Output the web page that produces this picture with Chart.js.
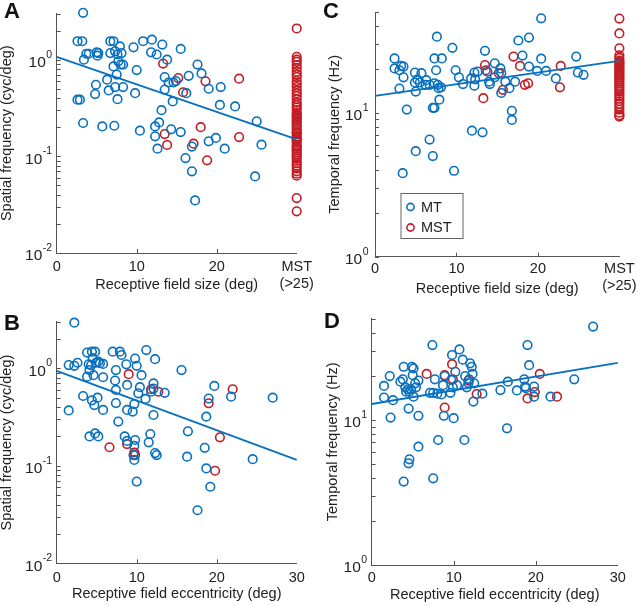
<!DOCTYPE html>
<html lang="en">
<head>
  <meta charset="UTF-8" />
  <title>MT / MST spatial and temporal frequency</title>
  <script src="https://cdn.jsdelivr.net/npm/chart.js"></script>
  <style>
    body { margin: 0; background: #fff; overflow: hidden; }
    #fig { position: relative; width: 640px; height: 606px; }
    #fig canvas { position: absolute; }
    .tag { position: absolute; font: bold 22px "Liberation Sans", Arial, sans-serif; line-height: 22px; color: #111; }
  </style>
</head>
<body>
  <div id="fig">
    <canvas id="chartA" width="320" height="303" style="left:0;top:0"></canvas>
    <canvas id="chartC" width="320" height="303" style="left:320px;top:0"></canvas>
    <canvas id="chartB" width="320" height="303" style="left:0;top:303px"></canvas>
    <canvas id="chartD" width="320" height="303" style="left:320px;top:303px"></canvas>
    <div class="tag" style="left:4px;top:0px">A</div>
    <div class="tag" style="left:323px;top:0px">C</div>
    <div class="tag" style="left:4px;top:312px">B</div>
    <div class="tag" style="left:324px;top:310px">D</div>
  </div>

  <script>
    // shared axis values
    const xTicks = [0, 10, 20, 30];
    const mstPos = 30;                 // where the MST group sits on the x axis
    const fitX = [0, 30];
    const sfTicks = [0.01, 0.02, 0.03, 0.04, 0.05, 0.06, 0.07, 0.08, 0.09,
                     0.1, 0.2, 0.3, 0.4, 0.5, 0.6, 0.7, 0.8, 0.9, 1, 2, 3];
    const sfDecades = [0.01, 0.1, 1];
    const sfExps = ['-2', '-1', '0'];
    const tfTicks = [1, 2, 3, 4, 5, 6, 7, 8, 9, 10, 20, 30, 40, 50];
    const tfDecades = [1, 10];
    const tfExps = ['0', '1'];

    // A: spatial frequency vs receptive field size
    const aMtX = [3.3,2.6,3.2,3.4,3.7,4.0,5.0,5.1,5.2,6.7,7.1,6.7,7.3,7.6,7.9,8.1,7.1,7.7,8.0,8.3,
                  6.3,7.5,7.3,8.3,4.9,4.8,6.5,7.6,2.6,2.9,3.3,5.7,7.2,9.6,10.8,11.9,11.8,12.5,13.2,13.8,
                  10.0,13.5,14.0,14.6,14.9,13.5,9.8,14.5,13.1,15.5,16.5,16.2,17.6,18.1,19.0,20.5,20.4,22.3,25.0,25.6,
                  24.8,12.8,12.3,12.3,12.6,14.3,10.4,15.5,16.1,16.9,16.9,17.3,19.0,19.9,21.0];
    const aMtY = [3.05,1.55,1.55,1.0,1.15,1.15,1.19,1.1,1.17,1.55,1.55,1.17,1.22,1.13,1.37,1.17,0.85,0.96,0.89,0.89,
                  0.62,0.70,0.52,0.52,0.55,0.44,0.48,0.39,0.385,0.385,0.221,0.204,0.207,1.34,1.55,1.61,1.19,1.13,1.43,1.0,
                  0.78,0.66,0.58,0.58,0.60,0.49,0.45,0.37,0.30,1.29,0.68,0.45,0.89,0.72,0.50,0.52,0.34,0.328,0.23,0.132,
                  0.062,0.224,0.204,0.161,0.12,0.19,0.184,0.178,0.096,0.07,0.126,0.035,0.143,0.155,0.12];
    const aMstX = [13.3,15.2,15.8,18.6,22.8,13.5,13.8,17.1,18.0,18.8,22.8];
    const aMstY = [0.91,0.645,0.46,0.596,0.635,0.17,0.131,0.135,0.2,0.091,0.158];
    const aColY = [2.1,1.07,1.0,0.95,0.88,0.82,0.75,0.7,0.66,0.6,0.56,0.52,0.48,0.45,0.42,0.39,0.36,0.34,0.32,0.3,
                   0.28,0.27,0.26,0.25,0.24,0.23,0.22,0.21,0.2,0.19,0.18,0.175,0.17,0.16,0.155,0.15,0.145,0.14,0.13,0.125,
                   0.12,0.115,0.11,0.105,0.1,0.095,0.09,0.085,0.08,0.075,0.07,0.066,0.063,0.037,0.027];
    const aFitY = [1.07, 0.15];

    // B: spatial frequency vs eccentricity
    const bMtX = [2.2,1.5,2.2,2.6,1.5,3.3,3.8,4.0,4.1,3.8,4.4,4.8,4.5,4.3,4.6,4.9,5.2,5.4,5.8,5.8,
                  4.4,4.7,5.1,5.8,4.1,4.8,5.2,7.0,7.3,7.4,7.4,7.4,7.7,7.9,8.1,8.7,8.8,8.8,9.5,9.7,
                  9.8,10.0,10.6,10.4,10.2,8.5,8.8,9.8,9.7,9.6,9.7,10.0,11.2,11.1,11.5,11.7,11.8,12.1,12.3,12.1,
                  12.3,12.5,12.1,13.5,15.6,16.4,16.3,18.5,18.7,18.7,19.0,19.2,19.7,17.6,21.8,24.5,27.0];
    const bMtY = [2.94,1.08,1.06,1.14,0.37,0.52,1.45,1.1,0.96,0.82,1.48,1.48,1.27,1.08,0.85,1.14,1.17,1.13,1.11,0.81,
                  0.47,0.42,0.5,0.374,0.2,0.215,0.2,1.48,0.75,0.96,0.6,0.44,0.284,1.48,1.37,1.1,0.675,0.374,0.36,0.43,
                  1.26,1.06,0.85,0.64,0.554,0.2,0.18,0.184,0.16,0.129,0.115,0.069,1.54,0.485,0.174,0.212,0.575,0.7,1.24,0.332,
                  0.135,0.129,0.62,0.56,0.96,0.226,0.124,0.153,0.319,0.094,0.49,0.061,0.66,0.035,0.512,0.117,0.5];
    const bMstX = [9.0,6.6,8.8,9.7,9.8,11.8,12.7,19.0,20.4,19.8,22.0];
    const bMstY = [0.87,0.155,0.167,0.137,0.129,0.61,0.575,0.438,0.196,0.089,0.61];
    const bFitY = [0.94, 0.115];

    // C: temporal frequency vs receptive field size
    const cMtX = [2.4,2.4,3.0,3.2,3.5,3.5,3.0,3.9,3.4,4.9,4.9,5.2,5.7,5.0,5.5,6.3,6.2,6.7,7.3,7.3,
                  7.5,7.6,8.2,7.7,7.8,8.1,7.9,7.1,7.3,6.7,7.1,5.0,9.7,9.5,9.9,10.3,10.8,11.8,12.2,12.6,
                  12.3,12.2,11.9,13.2,13.5,13.8,14.0,14.1,14.7,14.7,15.4,15.5,15.5,16.0,16.5,17.2,16.8,16.8,17.6,18.1,
                  18.9,18.9,19.9,21.0,20.4,20.4,22.2,24.7,24.9,25.6];
    const cMtY = [23.8,20.3,19.7,21.1,20.9,17.6,14.7,10.5,3.8,19.0,16.2,17.0,18.8,14.0,16.2,16.8,15.6,15.6,16.0,23.8,
                  19.7,33.7,23.8,15.6,14.8,15.0,12.3,10.8,10.8,6.5,5.0,5.4,3.95,28.2,19.7,17.6,15.8,17.3,19.0,19.3,
                  17.0,15.4,7.5,7.3,26.9,19.3,16.4,15.8,22.0,17.6,20.3,18.8,13.7,16.4,14.8,16.4,10.3,8.9,31.7,24.9,
                  33.2,20.9,19.5,19.5,45.2,23.7,17.3,24.5,19.0,18.3];
    const cMstX = [13.5,13.6,13.3,15.2,15.7,17.0,17.8,18.4,18.8,22.8,22.7];
    const cMstY = [21.4,19.7,12.6,18.8,14.4,24.5,21.1,15.6,16.0,21.1,15.0];
    const cColY = [45,35.5,28,25,24,23,22.5,22,21.5,21,20.5,20,19.5,19,18.5,18,17.5,17,16.5,16,
                   15.5,15,14.5,14,13.5,13,12.5,12,11.5,11,10.5,10,9.6,9.4];
    const cFitY = [13.1, 22.9];

    // D: temporal frequency vs eccentricity
    const dMtX = [1.5,1.5,2.2,2.3,2.6,3.5,3.8,3.9,4.1,4.2,4.4,4.6,4.8,4.9,5.0,5.1,5.1,5.3,5.4,5.7,
                  4.5,5.7,5.7,4.6,4.5,3.9,7.1,7.5,7.4,7.7,8.0,8.1,7.5,8.5,8.7,8.8,8.9,9.6,9.7,9.8,
                  10.0,9.9,10.2,10.4,10.7,11.1,11.3,11.4,11.6,11.8,12.0,12.2,12.3,12.4,12.5,11.9,13.5,15.7,16.5,16.6,
                  17.7,18.6,18.7,18.8,19.0,19.2,19.8,19.8,21.8,24.7,27.0];
    const dMtY = [17.2,14.3,20.1,10.4,13.7,18.4,19.1,23.3,16.8,15.7,16.3,15.7,16.3,23.3,20.4,22.7,14.5,17.9,16.8,18.7,
                  12.0,10.7,6.55,5.36,5.03,3.76,15.4,15.4,32.9,19.1,15.2,7.28,3.96,15.0,17.4,10.7,20.1,15.4,18.9,28.1,
                  10.3,16.8,21.5,17.4,30.7,26.1,7.28,20.1,16.8,18.0,24.6,23.3,20.8,13.4,17.9,19.1,15.2,16.1,8.77,18.4,
                  16.0,19.1,17.0,16.6,32.9,23.9,14.5,17.0,14.5,19.1,44.1];
    const dMstX = [6.7,8.9,8.9,9.8,9.9,11.8,12.8,19.0,19.9,20.5,22.6];
    const dMstY = [20.8,12.2,20.4,24.3,19.1,18.7,15.1,14.1,15.6,20.8,14.5];
    const dFitY = [12.9, 24.8];

    const blue = 'rgb(8,112,190)';
    const red = 'rgb(196,28,36)';
    const ink = '#222';
    const axisGray = '#555';
    const fam = '"Liberation Sans", Arial, Helvetica, sans-serif';

    Chart.defaults.font.family = fam;
    Chart.defaults.font.size = 14.5;
    Chart.defaults.color = ink;

    function pts(xs, ys) { return xs.map((x, i) => ({ x: x, y: ys[i] })); }
    function column(ys) { return ys.map(y => ({ x: mstPos, y: y })); }

    function circles(data, color) {
      return {
        data: data, showLine: false, clip: false,
        pointRadius: 4.3, pointBorderWidth: 1.6,
        pointBorderColor: color, pointBackgroundColor: 'rgba(0,0,0,0)'
      };
    }

    // inward tick marks + 10^n labels with raised exponents
    const axisDecor = {
      id: 'axisDecor',
      beforeDatasetsDraw(chart, args, opts) {
        const { ctx, chartArea: a, scales: { x, y } } = chart;
        ctx.save();
        ctx.strokeStyle = axisGray;
        ctx.lineWidth = 1;
        ctx.beginPath();
        x.ticks.forEach(t => {
          if (t.value <= x.min || t.value >= x.max) return;
          const px = Math.round(x.getPixelForValue(t.value)) + 0.5;
          ctx.moveTo(px, a.bottom);
          ctx.lineTo(px, a.bottom - 4);
        });
        y.ticks.forEach(t => {
          const py = Math.round(y.getPixelForValue(t.value)) + 0.5;
          ctx.moveTo(a.left, py);
          ctx.lineTo(a.left + 4, py);
        });
        ctx.stroke();

        ctx.fillStyle = ink;
        ctx.textBaseline = 'middle';
        ctx.textAlign = 'left';
        opts.decades.forEach((v, i) => {
          const py = y.getPixelForValue(v);
          ctx.font = '15.5px ' + fam;
          const wb = ctx.measureText('10').width;
          ctx.font = '10.5px ' + fam;
          const we = ctx.measureText(opts.exps[i]).width;
          const x0 = a.left - opts.gap - wb - we;
          ctx.font = '15.5px ' + fam;
          ctx.fillText('10', x0, py + 3);
          ctx.font = '10.5px ' + fam;
          ctx.fillText(opts.exps[i], x0 + wb + 0.5, py - 5);
        });
        ctx.restore();
      }
    };

    // boxed legend inside panel C
    const boxLegend = {
      id: 'boxLegend',
      afterDraw(chart) {
        const { ctx, chartArea: a } = chart;
        const bx = a.left + 25.5, by = a.top + 181;
        ctx.save();
        ctx.fillStyle = '#fff';
        ctx.fillRect(bx, by, 62, 45);
        ctx.strokeStyle = '#666';
        ctx.lineWidth = 1;
        ctx.strokeRect(bx + 0.5, by + 0.5, 62, 45);
        const rows = [['MT', blue, 14], ['MST', red, 34.5]];
        ctx.font = '14.5px ' + fam;
        ctx.textBaseline = 'middle';
        ctx.textAlign = 'left';
        rows.forEach(r => {
          ctx.beginPath();
          ctx.arc(bx + 10, by + r[2], 3.6, 0, Math.PI * 2);
          ctx.strokeStyle = r[1];
          ctx.lineWidth = 1.6;
          ctx.stroke();
          ctx.fillStyle = ink;
          ctx.fillText(r[0], bx + 20.5, by + r[2] + 0.5);
        });
        ctx.restore();
      }
    };

    function makePanel(id, p) {
      const sets = [
        { data: pts(fitX, p.fitY), showLine: true, clip: false, borderColor: blue, borderWidth: 1.8, pointRadius: 0 },
        circles(pts(p.mtX, p.mtY), blue),
        circles(pts(p.mstX, p.mstY), red)
      ];
      if (p.colY) sets.push(circles(column(p.colY), red));

      return new Chart(document.getElementById(id), {
        type: 'scatter',
        data: { datasets: sets },
        options: {
          responsive: false,
          animation: false,
          events: [],
          layout: { padding: { top: p.padTop, right: p.padRight, left: 0, bottom: 0 } },
          plugins: {
            legend: { display: false },
            tooltip: { enabled: false },
            axisDecor: { decades: p.decades, exps: p.exps, gap: p.labelGap }
          },
          scales: {
            x: {
              type: 'linear', min: 0, max: 30,
              afterBuildTicks: s => { s.ticks = xTicks.map(v => ({ value: v })); },
              afterFit: s => { s.height = p.xHeight; },
              grid: { display: false, drawTicks: false },
              border: { color: axisGray, width: 1 },
              ticks: {
                padding: p.xPad, maxRotation: 0, autoSkip: false,
                callback: v => (p.colY && v === mstPos) ? ['MST', '(>25)'] : String(v)
              },
              title: { display: true, text: p.xTitle, padding: { top: 0, bottom: p.xTitlePad } }
            },
            y: {
              type: 'logarithmic', min: p.yMin, max: p.yMax,
              afterBuildTicks: s => { s.ticks = p.yTicks.map(v => ({ value: v })); },
              afterFit: s => { s.width = p.yWidth; },
              grid: { display: false, drawTicks: false },
              border: { color: axisGray, width: 1 },
              ticks: { display: false },
              title: { display: true, text: p.yTitle, padding: { top: p.yTitlePad, bottom: 0 } }
            }
          }
        },
        plugins: p.legend ? [axisDecor, boxLegend] : [axisDecor]
      });
    }

    makePanel('chartA', {
      mtX: aMtX, mtY: aMtY, mstX: aMstX, mstY: aMstY, colY: aColY, fitY: aFitY,
      yMin: 0.01, yMax: 3, yTicks: sfTicks, decades: sfDecades, exps: sfExps,
      xTitle: 'Receptive field size (deg)', yTitle: 'Spatial frequency (cyc/deg)',
      padTop: 13.5, padRight: 23.3, yWidth: 56.7, xHeight: 50,
      xPad: 5, xTitlePad: 9.3, yTitlePad: -1.3, labelGap: 5
    });

    makePanel('chartB', {
      mtX: bMtX, mtY: bMtY, mstX: bMstX, mstY: bMstY, fitY: bFitY,
      yMin: 0.01, yMax: 3, yTicks: sfTicks, decades: sfDecades, exps: sfExps,
      xTitle: 'Receptive field eccentricity (deg)', yTitle: 'Spatial frequency (cyc/deg)',
      padTop: 18.8, padRight: 23.3, yWidth: 56.7, xHeight: 42.7,
      xPad: 6.3, xTitlePad: 3.3, yTitlePad: -1.3, labelGap: 5
    });

    makePanel('chartC', {
      mtX: cMtX, mtY: cMtY, mstX: cMstX, mstY: cMstY, colY: cColY, fitY: cFitY,
      yMin: 1, yMax: 50, yTicks: tfTicks, decades: tfDecades, exps: tfExps,
      xTitle: 'Receptive field size (deg)', yTitle: 'Temporal frequency (Hz)',
      padTop: 12, padRight: 18.3, yWidth: 55, xHeight: 46.3,
      xPad: 3.5, xTitlePad: 5.8, yTitlePad: 5.8, labelGap: 7, legend: true
    });

    makePanel('chartD', {
      mtX: dMtX, mtY: dMtY, mstX: dMstX, mstY: dMstY, fitY: dFitY,
      yMin: 1, yMax: 50, yTicks: tfTicks, decades: tfDecades, exps: tfExps,
      xTitle: 'Receptive field eccentricity (deg)', yTitle: 'Temporal frequency (Hz)',
      padTop: 15.7, padRight: 22.3, yWidth: 51.7, xHeight: 41,
      xPad: 4.6, xTitlePad: 2.3, yTitlePad: 4.6, labelGap: 5
    });
  </script>
</body>
</html>
